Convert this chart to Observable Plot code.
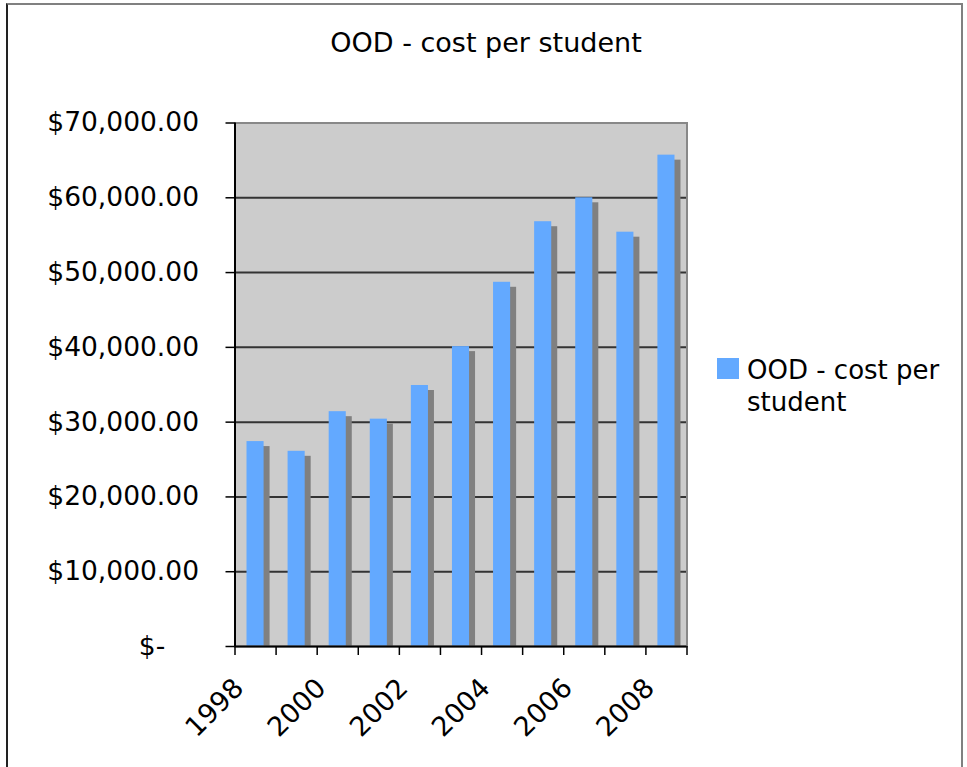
<!DOCTYPE html>
<html>
<head>
<meta charset="utf-8">
<script src="https://cdn.jsdelivr.net/npm/d3@7"></script>
<script src="https://cdn.jsdelivr.net/npm/@observablehq/plot@0.6"></script>
<style>
  html, body { margin: 0; padding: 0; background: #fff; }
  body { width: 967px; height: 767px; position: relative; overflow: hidden; font-family: "DejaVu Sans", Verdana, sans-serif; }
  #border { position: absolute; left: 6px; top: 3px; width: 957px; height: 800px;
    border-top: 2px solid #808080; border-right: 2px solid #808080; border-left: 2px solid #222; box-sizing: border-box; }
  #chart { position: absolute; left: 0; top: 0; }
  #title { position: absolute; left: 0; width: 972px; top: 27px; text-align: center; font-size: 27px; line-height: 32px; color: #000; }
  #legend { position: absolute; left: 717px; top: 354px; font-size: 26px; line-height: 32px; color: #000; }
  #legend .sw { position: absolute; left: 0; top: 4px; width: 22px; height: 21px; background: #63a9ff; }
  #legend .lbl { position: absolute; left: 30px; top: 0; white-space: nowrap; }
</style>
</head>
<body>
<div id="border"></div>
<div id="chart"></div>
<div id="title">OOD - cost per student</div>
<div id="legend"><div class="sw"></div><div class="lbl">OOD - cost per<br>student</div></div>
<script>
// Data
const years = [1998, 1999, 2000, 2001, 2002, 2003, 2004, 2005, 2006, 2007, 2008];
const costPerStudent = [27400, 26100, 31400, 30400, 34900, 40100, 48700, 56800, 60000, 55400, 65700];
// Axis ticks / labels
const yTicks = [0, 10000, 20000, 30000, 40000, 50000, 60000, 70000];
const gridLines = [10000, 20000, 30000, 40000, 50000, 60000];
const xBoundaryTicks = [1998, 1999, 2000, 2001, 2002, 2003, 2004, 2005, 2006, 2007, 2008, 2009];
const xLabelYears = [1998, 2000, 2002, 2004, 2006, 2008];

const data = years.map((year, i) => ({year, value: costPerStudent[i]}));
const money = d3.format("$,.2f");
const fmt = d => d === 0 ? "$-\u2007\u2007" : money(d);

const chart = Plot.plot({
  width: 967,
  height: 767,
  marginLeft: 234.5,
  marginRight: 280.5,
  marginTop: 122.5,
  marginBottom: 121,
  x: {type: "linear", domain: [1998, 2009], axis: null, label: null},
  y: {domain: [0, 70000], axis: null, label: null},
  style: {background: "transparent", fontFamily: "DejaVu Sans, Verdana, sans-serif", fontSize: "26px", color: "#000", overflow: "visible"},
  marks: [
    Plot.frame({fill: "#cccccc", stroke: null}),
    Plot.ruleY(gridLines, {stroke: "#333333", strokeWidth: 2}),
    Plot.rectY(data, {x: "year", y: "value", interval: 1, insetLeft: 12, insetRight: 12, fill: "#808080", dx: 6, dy: 5, clip: true}),
    Plot.rectY(data, {x: "year", y: "value", interval: 1, insetLeft: 12, insetRight: 12, fill: "#63a9ff"}),
    Plot.frame({stroke: "#888888", strokeWidth: 2}),
    Plot.ruleX([1998], {stroke: "#000", strokeWidth: 2}),
    Plot.ruleY([0], {stroke: "#000", strokeWidth: 2}),
    Plot.axisY({ticks: yTicks, label: null, tickSize: 9, tickPadding: 27, tickFormat: fmt, fontSize: 26.5, stroke: "#000", strokeWidth: 1.5, fill: "#000"}),
    Plot.axisX({ticks: xBoundaryTicks, label: null, tickSize: 9, tickFormat: () => "", stroke: "#000", strokeWidth: 1.5}),
    Plot.text(xLabelYears, {x: d => d, frameAnchor: "bottom", dx: 4, dy: 37, rotate: -45, textAnchor: "end", lineAnchor: "middle", text: d => String(d), fontSize: 27, fill: "#000"})
  ]
});
document.getElementById("chart").appendChild(chart);
</script>
</body>
</html>
